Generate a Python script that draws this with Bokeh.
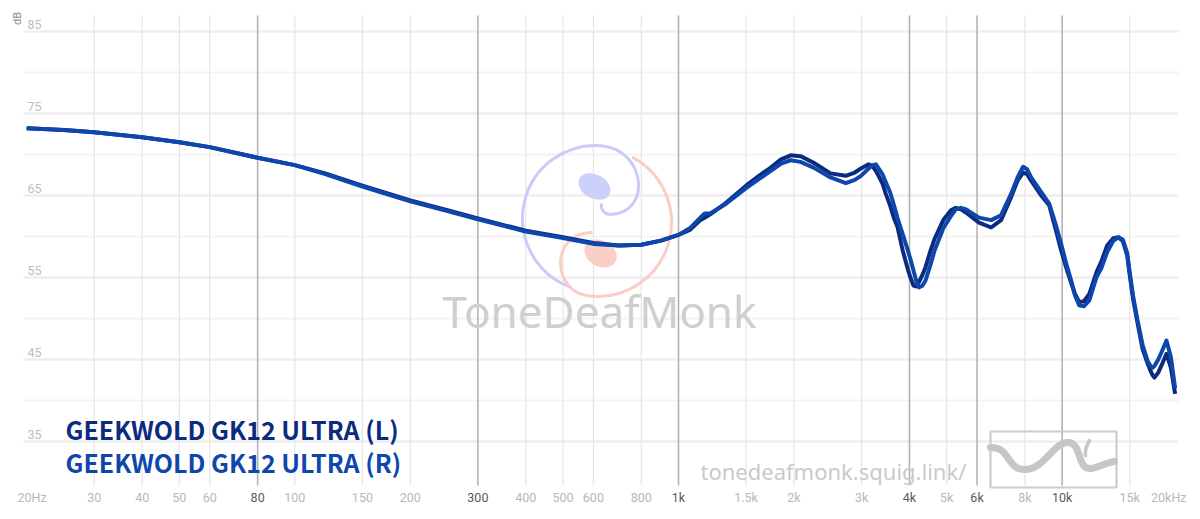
import math
from bokeh.plotting import figure
from bokeh.models import Range1d, ColumnDataSource
from bokeh.core.properties import value
from bokeh.embed import file_html
from bokeh.resources import INLINE

# ---------------- data ----------------
freq_lo = [20, 25, 30, 40, 50, 60, 80, 100, 120, 150, 200, 250, 300, 400, 500, 600, 700, 800, 900, 1000]
left_lo = [73.2, 73.0, 72.7, 72.1, 71.5, 70.9, 69.6, 68.7, 67.7, 66.2, 64.4, 63.2, 62.2, 60.7, 59.9, 59.2, 58.9, 59.0, 59.5, 60.2]
right_lo = [73.2, 73.0, 72.7, 72.1, 71.5, 70.9, 69.6, 68.7, 67.6, 66.1, 64.3, 63.1, 62.1, 60.6, 59.8, 59.1, 58.9, 59.0, 59.5, 60.2]

freq_hi = [1070, 1140, 1170, 1210, 1330, 1500, 1620, 1740, 1850, 1960, 2080, 2250, 2490, 2730, 2880, 2990,
           3130, 3200, 3270, 3400, 3470, 3560, 3640, 3720, 3840, 3960, 4030, 4100, 4170, 4240, 4320, 4400,
           4540, 4650, 4900, 5130, 5280, 5450, 5620, 6070, 6530, 6930, 7360, 7650, 7910, 8100, 8300, 8820,
           9250, 9600, 9940, 10260, 10560, 10800, 11080, 11400, 11770, 12300, 12640, 13100, 13600, 14030,
           14400, 14770, 15000, 15300, 15700, 16200, 16700, 17000, 17200, 17400, 17800, 18200, 18700, 19200,
           19700]
left_hi = [60.8, 62.0, 62.3, 62.7, 64.1, 66.2, 67.4, 68.4, 69.4, 69.9, 69.8, 69.0, 67.7, 67.4, 67.8, 68.3,
           68.8, 68.6, 68.0, 66.5, 65.2, 63.8, 62.3, 61.2, 58.3, 56.0, 54.9, 54.0, 53.9, 54.5, 55.3, 56.2,
           58.3, 59.7, 62.0, 63.2, 63.5, 63.3, 62.9, 61.7, 61.1, 62.0, 64.8, 66.8, 67.8, 67.6, 66.8, 65.0,
           63.8, 61.0, 58.3, 56.1, 54.3, 53.0, 52.0, 52.1, 53.0, 55.7, 56.9, 58.9, 59.8, 59.9,
           59.4, 57.7, 55.3, 52.4, 49.6, 46.3, 44.5, 43.6, 43.1, 42.8, 43.4, 44.4, 45.7, 44.0,
           40.8]
right_hi = [61.0, 62.3, 62.8, 62.8, 64.0, 65.9, 67.0, 68.0, 68.9, 69.3, 69.1, 68.4, 67.2, 66.5, 66.9, 67.4,
            68.3, 68.7, 68.8, 67.6, 66.6, 65.4, 63.9, 62.3, 60.3, 58.3, 57.1, 55.8, 54.5, 53.8, 54.0, 54.6,
            56.6, 58.3, 61.0, 62.5, 63.3, 63.5, 63.3, 62.3, 62.0, 62.6, 65.2, 67.2, 68.5, 68.2, 67.2, 65.4,
            64.0, 61.6, 59.1, 56.6, 54.6, 52.8, 51.6, 51.5, 52.2, 55.1, 56.1, 58.1, 59.5, 59.9,
            59.6, 58.0, 55.6, 52.8, 49.9, 46.8, 44.8, 44.2, 44.0, 44.2, 45.0, 46.0, 47.3, 45.3,
            41.5]

freq = freq_lo + freq_hi
left_db = left_lo + left_hi
right_db = right_lo + right_hi

series_names = ["GEEKWOLD GK12 ULTRA (L)", "GEEKWOLD GK12 ULTRA (R)"]
series_colors = ["#0b2b7e", "#0d47ad"]

x_minor_ticks = [30, 40, 50, 60, 100, 150, 200, 400, 500, 600, 800, 1500, 2000, 3000, 5000, 8000, 15000]
x_major_ticks = [80, 300, 1000, 4000, 6000, 10000]
x_label_ticks = [20, 30, 40, 50, 60, 80, 100, 150, 200, 300, 400, 500, 600, 800, 1000,
                 1500, 2000, 3000, 4000, 5000, 6000, 8000, 10000, 15000, 20000]
x_label_text = ["20Hz", "30", "40", "50", "60", "80", "100", "150", "200", "300", "400", "500", "600", "800", "1k",
                "1.5k", "2k", "3k", "4k", "5k", "6k", "8k", "10k", "15k", "20kHz"]
x_label_dark = ["80", "300", "1k", "4k", "6k", "10k"]
y_grid_major = [35, 45, 55, 65, 75, 85]
y_grid_minor = [40, 50, 60, 70, 80]
y_label_text = ["35", "45", "55", "65", "75", "85"]

# ---------------- page pixel helpers (decorations only) ----------------
X1K, PXDEC, Y85, PXDB = 678.0, 383.67, 31.0, 8.2


def hz(px):
    return 1000.0 * 10 ** ((px - X1K) / PXDEC)


def db(py):
    return 85.0 - (py - Y85) / PXDB


W, H = 1192, 511
p = figure(width=W, height=H, x_axis_type="log",
           x_range=Range1d(hz(0), hz(W)), y_range=Range1d(db(H), db(0)),
           x_axis_location=None, y_axis_location=None,
           toolbar_location=None, output_backend="svg", min_border=0)
p.outline_line_color = None
p.background_fill_color = "white"
p.border_fill_color = "white"
p.xgrid.visible = False
p.ygrid.visible = False

# horizontal grid
gx0, gx1 = hz(23), hz(1178)
p.segment(x0=[gx0] * len(y_grid_minor), x1=[gx1] * len(y_grid_minor), y0=y_grid_minor, y1=y_grid_minor,
          line_color="#f3f3f3", line_width=2)
p.segment(x0=[gx0] * len(y_grid_major), x1=[gx1] * len(y_grid_major), y0=y_grid_major, y1=y_grid_major,
          line_color="#eeeeee", line_width=2.5)
# vertical grid
gy0, gy1 = db(485), db(15)
p.segment(x0=x_minor_ticks, x1=x_minor_ticks, y0=[gy0] * len(x_minor_ticks), y1=[gy1] * len(x_minor_ticks),
          line_color="#e6e6e6", line_width=1.2)
p.segment(x0=x_major_ticks, x1=x_major_ticks, y0=[gy0] * len(x_major_ticks), y1=[gy1] * len(x_major_ticks),
          line_color="#b4b4b4", line_width=1.6)

# ---- watermark logo (circle) ----
BLUE, RED = "#c9ccf9", "#f8cec7"
p.arc(x=[hz(595)], y=[db(218)], radius=73, radius_units="screen", start_angle=math.radians(84),
      end_angle=math.radians(250), direction="anticlock", line_color=BLUE, line_width=3)
p.bezier(x0=[hz(602)], y0=[db(145.5)], cx0=[hz(645)], cy0=[db(150)], cx1=[hz(652)], cy1=[db(212)],
         x1=[hz(610)], y1=[db(214)], line_color=BLUE, line_width=3)
p.bezier(x0=[hz(610)], y0=[db(214)], cx0=[hz(603)], cy0=[db(214)], cx1=[hz(600)], cy1=[db(208)],
         x1=[hz(601)], y1=[db(203)], line_color=BLUE, line_width=3)
p.arc(x=[hz(597)], y=[db(222)], radius=74, radius_units="screen", start_angle=math.radians(-96),
      end_angle=math.radians(62), direction="anticlock", line_color=RED, line_width=3)
p.bezier(x0=[hz(589)], y0=[db(295.5)], cx0=[hz(552)], cy0=[db(293)], cx1=[hz(548)], cy1=[db(232)],
         x1=[hz(592)], y1=[db(232)], line_color=RED, line_width=3)
p.ellipse(x=[hz(594)], y=[db(186)], width=34, height=24, angle=-0.5, width_units="screen",
          height_units="screen", fill_color="#cdd0fb", line_color=None)
p.ellipse(x=[hz(600)], y=[db(253)], width=34, height=26, angle=-0.5, width_units="screen",
          height_units="screen", fill_color="#f9cfc8", line_color=None)

p.text(x=[hz(599)], y=[db(310)], text=["ToneDeafMonk"], text_font=value("Noto Sans"),
       text_font_size="44px", text_color="#cfcfcf", text_align="center", text_baseline="middle")
p.text(x=[hz(700)], y=[db(470)], text=["tonedeafmonk.squig.link/"], text_font=value("Noto Sans"),
       text_font_size="22px", text_color="#cacaca", text_align="left", text_baseline="middle")
# small squiggle box
p.quad(left=[hz(990)], right=[hz(1116)], top=[db(431)], bottom=[db(487)], fill_color=None,
       line_color="#cccccc", line_width=2.2)
SQ = "#c6c6c6"
p.bezier(x0=[hz(990)], y0=[db(447)], cx0=[hz(1010)], cy0=[db(446)], cx1=[hz(1006)], cy1=[db(470)],
         x1=[hz(1025)], y1=[db(469)], line_color=SQ, line_width=7, line_cap="round")
p.bezier(x0=[hz(1025)], y0=[db(469)], cx0=[hz(1045)], cy0=[db(468)], cx1=[hz(1053)], cy1=[db(441)],
         x1=[hz(1068)], y1=[db(442)], line_color=SQ, line_width=7, line_cap="round")
p.bezier(x0=[hz(1068)], y0=[db(442)], cx0=[hz(1082)], cy0=[db(443)], cx1=[hz(1076)], cy1=[db(470)],
         x1=[hz(1091)], y1=[db(468)], line_color=SQ, line_width=7, line_cap="round")
p.bezier(x0=[hz(1091)], y0=[db(468)], cx0=[hz(1100)], cy0=[db(466)], cx1=[hz(1106)], cy1=[db(462)],
         x1=[hz(1114)], y1=[db(461)], line_color=SQ, line_width=7, line_cap="round")
p.bezier(x0=[hz(1089)], y0=[db(440)], cx0=[hz(1086)], cy0=[db(445)], cx1=[hz(1084)], cy1=[db(450)],
         x1=[hz(1085)], y1=[db(455)], line_color=SQ, line_width=3.5, line_cap="round")

# ---- curves ----
src = ColumnDataSource(dict(f=freq, l=left_db, r=right_db))
p.line("f", "l", source=src, line_color=series_colors[0], line_width=4, line_join="round")
p.line("f", "r", source=src, line_color=series_colors[1], line_width=4, line_join="round")

# ---- tick labels ----
lab_color = ["#5a5a5a" if t in x_label_dark else "#b8b8b8" for t in x_label_text]
TICK_FONT = dict(text_font=value("Roboto"), text_font_size="12.5px", text_baseline="middle")
ylab = db(497)
p.text(x=x_label_ticks[1:-1], y=[ylab] * (len(x_label_ticks) - 2), text=x_label_text[1:-1],
       text_color=lab_color[1:-1], text_align="center", **TICK_FONT)
p.text(x=[hz(17)], y=[ylab], text=x_label_text[:1], text_color=lab_color[:1], text_align="left", **TICK_FONT)
p.text(x=[hz(1186)], y=[ylab], text=x_label_text[-1:], text_color=lab_color[-1:], text_align="right",
       **TICK_FONT)
p.text(x=[hz(27)] * len(y_grid_major), y=[v + 7 / PXDB for v in y_grid_major], text=y_label_text,
       text_color="#bdbdbd", text_align="left", **TICK_FONT)
p.text(x=[hz(17)], y=[db(18)], text=["dB"], angle=math.pi / 2, text_color="#8a8a8a",
       text_font=value("Roboto"), text_font_size="11px", text_align="center", text_baseline="middle")

# ---- legend texts ----
p.text(x=[hz(65), hz(65)], y=[db(428), db(461)], text=series_names, text_color=series_colors,
       text_font=value("Noto Sans CJK JP"), text_font_style="bold", text_font_size="25px",
       text_align="left", text_baseline="middle")

open("out.html", "w").write(file_html(p, INLINE))
